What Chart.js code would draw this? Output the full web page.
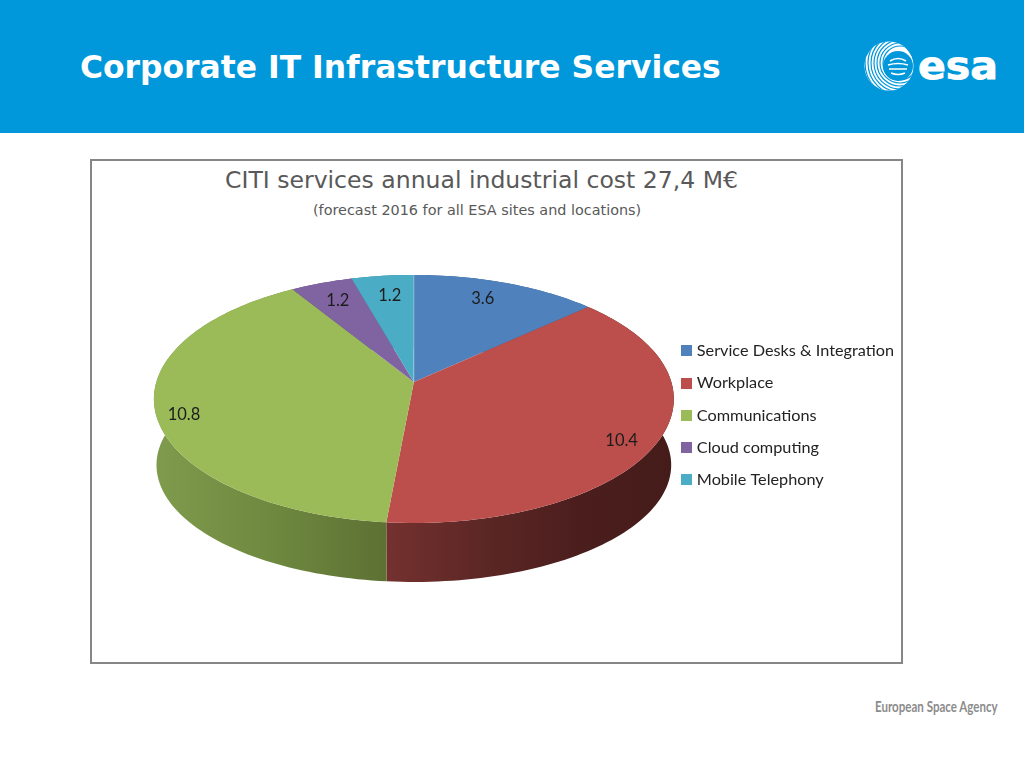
<!DOCTYPE html>
<html>
<head>
<meta charset="utf-8">
<title>Corporate IT Infrastructure Services</title>
<script src="https://cdn.jsdelivr.net/npm/chart.js@4"></script>
<style>
  html, body { margin: 0; padding: 0; background: #fff; }
  body { width: 1024px; height: 768px; position: relative; overflow: hidden; }
  #header { position: absolute; left: 0; top: 0; width: 1024px; height: 133px; background: #0098db; }
  #heading { position: absolute; left: 80px; top: 49px; color: #fff; font: bold 31.4px "DejaVu Sans", sans-serif; white-space: nowrap; }
  #logo { position: absolute; left: 860px; top: 36px; }
  #box { position: absolute; left: 90px; top: 159px; width: 809px; height: 501px; border: 2px solid #868686; }
  #title, #subtitle { position: absolute; white-space: nowrap; color: #595959; font-family: "DejaVu Sans", sans-serif; }
  #title { left: 225px; top: 166px; font-size: 23.55px; }
  #subtitle { left: 313px; top: 202px; font-size: 14.4px; }
  #chartWrap { position: absolute; left: 90px; top: 159px; }
  #footer { position: absolute; left: 875px; top: 697px; color: #8c8c8c; font: bold 15px Lato, sans-serif; white-space: nowrap; transform: scaleX(0.77); transform-origin: left top; }
</style>
</head>
<body>
<div id="header">
  <div id="heading">Corporate IT Infrastructure Services</div>
  <svg id="logo" width="145" height="60" viewBox="0 0 145 60">
    <defs><clipPath id="globe"><circle cx="29" cy="30" r="24.5"/></clipPath></defs>
    <circle cx="29" cy="30" r="24.5" fill="#fff"/>
    <g clip-path="url(#globe)" fill="none" stroke="#0098db" stroke-width="1.2">
      <circle cx="40" cy="27" r="17"/><circle cx="40" cy="27" r="20"/><circle cx="40" cy="27" r="23"/>
      <circle cx="40" cy="27" r="26"/><circle cx="40" cy="27" r="29"/><circle cx="40" cy="27" r="32"/>
      <circle cx="40" cy="27" r="35"/><circle cx="40" cy="27" r="38"/>
    </g>
    <circle cx="38" cy="30" r="15" fill="#0098db"/>
    <path d="M30 25 Q38 20 46 25 M28 29 Q38 26 48 29 M29 33 H47 M31 37 Q38 40 45 37" fill="none" stroke="#fff" stroke-width="1.6"/>
    <text x="58" y="43" fill="#fff" stroke="#fff" stroke-width="0.8" font-family="DejaVu Sans" font-weight="bold" font-size="38" textLength="80" lengthAdjust="spacingAndGlyphs">esa</text>
  </svg>
</div>
<div id="box"></div>
<div id="title">CITI services annual industrial cost 27,4 M€</div>
<div id="subtitle">(forecast 2016 for all ESA sites and locations)</div>
<div id="chartWrap"><canvas id="myChart" width="814" height="505"></canvas></div>
<div id="footer">European Space Agency</div>

<script>
const categories = ['Service Desks & Integration', 'Workplace', 'Communications', 'Cloud computing', 'Mobile Telephony'];
const values = [3.6, 10.4, 10.8, 1.2, 1.2];
const topColors = ['#4f81bd', '#bc4f4c', '#9bbb59', '#8064a2', '#4bacc6'];
// side wall shades, left to right
const wallColors = [
  ['#3a5f8c', '#3a5f8c'],
  ['#74312f', '#5c2725', '#4b1e1d', '#451c1a'],
  ['#7f9b4c', '#6f8940', '#5d7133'],
  ['#5e4a78', '#5e4a78'],
  ['#387f92', '#387f92'],
];
// where each value label sits: out along the radius, and across the slice
const labelRadius = [0.817, 0.88, 0.898, 0.81, 0.8];
const labelAlong = [0.445, 0.53, 0.478, 0.51, 0.53];

// perspective of the pie: flattening and foreshortening of the disc
const tilt = 0.4726;
const persp = 0.137;
const topPlane = { scaleX: 1, scaleY: 1, drop: 0 };
const wall = { scaleX: 0.99, scaleY: 0.943, drop: 67 };

function project(arc, angle, r, plane) {
  const ux = Math.cos(angle) * r;
  const uy = Math.sin(angle) * r;
  const d = 1 - persp * uy;
  const R = arc.outerRadius;
  return {
    x: arc.x + (R * plane.scaleX * ux) / d,
    y: arc.y + plane.drop + (R * tilt * plane.scaleY * uy) / d,
  };
}

function rimPoints(arc, plane) {
  const pts = [];
  const n = Math.max(2, Math.ceil((arc.endAngle - arc.startAngle) * 40));
  for (let i = 0; i <= n; i++) {
    pts.push(project(arc, arc.startAngle + ((arc.endAngle - arc.startAngle) * i) / n, 1, plane));
  }
  return pts;
}

// legend squares sit closer to their text than the default box allows
function swatch(color) {
  const c = document.createElement('canvas');
  c.width = c.height = 11;
  const g = c.getContext('2d');
  g.fillStyle = color;
  g.fillRect(0, 0, 11, 11);
  return c;
}
const swatches = topColors.map(swatch);

const pie3d = {
  id: 'pie3d',
  beforeDatasetsDraw(chart) {
    const ctx = chart.ctx;
    const arcs = chart.getDatasetMeta(0).data;

    // side walls first, the top faces cover whatever is at the back
    arcs.forEach((arc, i) => {
      const top = rimPoints(arc, topPlane);
      const bottom = rimPoints(arc, wall).reverse();
      const xs = top.concat(bottom).map((p) => p.x);
      const grad = ctx.createLinearGradient(Math.min(...xs), 0, Math.max(...xs), 0);
      wallColors[i].forEach((c, j) => grad.addColorStop(j / (wallColors[i].length - 1), c));
      ctx.beginPath();
      top.concat(bottom).forEach((p) => ctx.lineTo(p.x, p.y));
      ctx.closePath();
      ctx.fillStyle = grad;
      ctx.fill();
    });

    arcs.forEach((arc, i) => {
      ctx.beginPath();
      ctx.moveTo(arc.x, arc.y);
      rimPoints(arc, topPlane).forEach((p) => ctx.lineTo(p.x, p.y));
      ctx.closePath();
      ctx.fillStyle = topColors[i];
      ctx.fill();
    });

    // pale seam at twelve o'clock
    const first = rimPoints(arcs[0], topPlane)[0];
    ctx.beginPath();
    ctx.moveTo(arcs[0].x, arcs[0].y);
    ctx.lineTo(first.x, first.y);
    ctx.strokeStyle = 'rgba(255,255,255,0.35)';
    ctx.lineWidth = 1;
    ctx.stroke();

    ctx.fillStyle = '#1c1c1c';
    ctx.font = '16.5px Lato, sans-serif';
    ctx.textAlign = 'center';
    ctx.textBaseline = 'middle';
    arcs.forEach((arc, i) => {
      const angle = arc.startAngle + (arc.endAngle - arc.startAngle) * labelAlong[i];
      const p = project(arc, angle, labelRadius[i], topPlane);
      ctx.fillText(values[i].toFixed(1), p.x, p.y + 1);
    });
    return false;
  },
};

const myChart = new Chart(document.getElementById('myChart'), {
  type: 'pie',
  data: {
    labels: categories,
    datasets: [{ data: values, backgroundColor: topColors, borderWidth: 0 }],
  },
  options: {
    responsive: false,
    animation: false,
    radius: 257.5,
    layout: { padding: { left: 69, top: 101, bottom: 160 } },
    plugins: {
      title: { display: false },
      tooltip: { enabled: false },
      legend: {
        position: 'right',
        align: 'end',
        labels: {
          usePointStyle: true,
          pointStyleWidth: 4,
          padding: 16,
          color: '#222',
          font: { family: 'Lato, sans-serif', size: 16.25 },
          generateLabels(chart) {
            return Chart.overrides.pie.plugins.legend.labels
              .generateLabels(chart)
              .map((item, i) => ({ ...item, pointStyle: swatches[i] }));
          },
        },
      },
    },
  },
  plugins: [pie3d],
});
</script>
</body>
</html>
